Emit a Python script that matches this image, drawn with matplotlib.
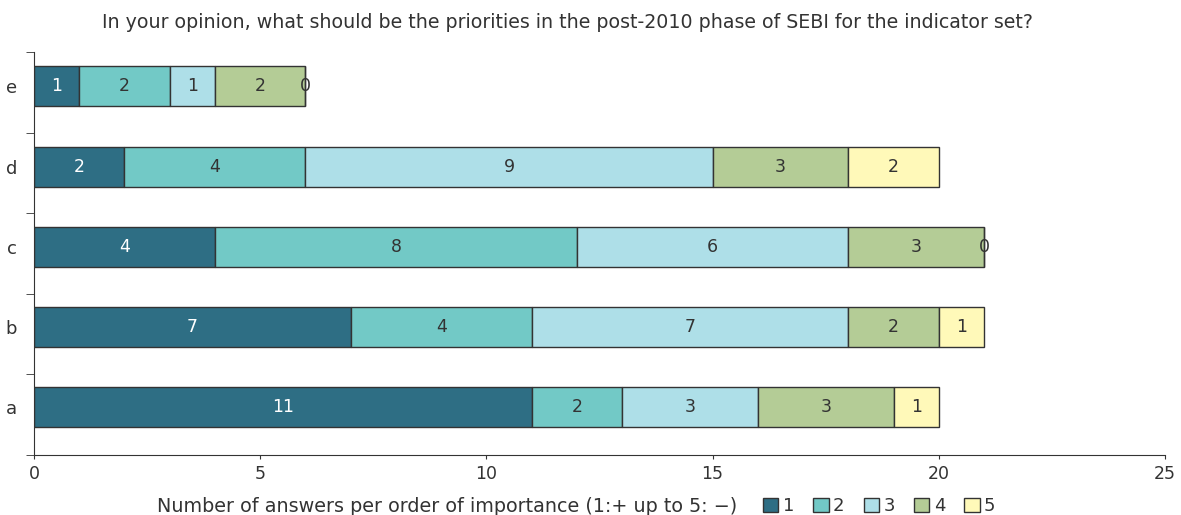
import matplotlib
matplotlib.use("Agg")
import matplotlib.pyplot as plt
import numpy as np
from matplotlib.patches import Patch

categories = ["a", "b", "c", "d", "e"]
ranks = ["1", "2", "3", "4", "5"]
values = {
    "1": [11, 7, 4, 2, 1],
    "2": [2, 4, 8, 4, 2],
    "3": [3, 7, 6, 9, 1],
    "4": [3, 2, 3, 3, 2],
    "5": [1, 1, 0, 2, 0],
}
colors = ["#2E6E84", "#72C9C6", "#AEDFE8", "#B4CC96", "#FFF9B9"]
text_colors = ["white", "#333333", "#333333", "#333333", "#333333"]

title = "In your opinion, what should be the priorities in the post-2010 phase of SEBI for the indicator set?"
xlabel = "Number of answers per order of importance (1:+ up to 5: \u2212)"

plt.rcParams["font.family"] = "DejaVu Sans"
fig = plt.figure(figsize=(11.81, 5.15), dpi=100)
ax = fig.add_axes([34 / 1181, 1 - 455 / 515, (1165 - 34) / 1181, (455 - 52) / 515])

y = np.arange(len(categories))
left = np.zeros(len(categories))
for i, r in enumerate(ranks):
    v = np.array(values[r], dtype=float)
    ax.barh(y, v, left=left, height=0.5, color=colors[i],
            edgecolor="#333333", linewidth=1)
    for yy, vv, ll in zip(y, v, left):
        ax.text(ll + vv / 2, yy, f"{int(vv)}", ha="center", va="center",
                fontsize=12.5, color=text_colors[i])
    left += v

ax.set_xlim(0, 25)
ax.set_ylim(-0.6, 4.43)
ax.set_xticks([0, 5, 10, 15, 20, 25])
ax.tick_params(axis="x", length=3, labelsize=12.5, colors="#333333", pad=4)

# category labels on major ticks, boundary ticks as minor
ax.set_yticks(y)
ax.set_yticklabels(categories)
ax.tick_params(axis="y", which="major", length=0, labelsize=13, colors="#333333", pad=12)
ax.set_yticks(np.linspace(-0.6, 4.43, 6), minor=True)
ax.tick_params(axis="y", which="minor", length=6, color="#333333")

for s in ["top", "right"]:
    ax.spines[s].set_visible(False)
for s in ["left", "bottom"]:
    ax.spines[s].set_color("#333333")

fig.text(568 / 1181, 1 - 22 / 515, title, ha="center", va="center",
         fontsize=13.7, color="#333333")
fig.text(157 / 1181, 1 - 506 / 515, xlabel, ha="left", va="center",
         fontsize=13.8, color="#333333")

handles = [Patch(facecolor=c, edgecolor="#333333", label=r) for c, r in zip(colors, ranks)]
fig.legend(handles=handles, ncol=5, loc="center left",
           bbox_to_anchor=(754 / 1181, 1 - 506 / 515), frameon=False,
           fontsize=13, labelcolor="#333333", handlelength=0.85, handleheight=0.85,
           handletextpad=0.25, columnspacing=1.05, borderpad=0)

fig.savefig("out.png", dpi=100)
